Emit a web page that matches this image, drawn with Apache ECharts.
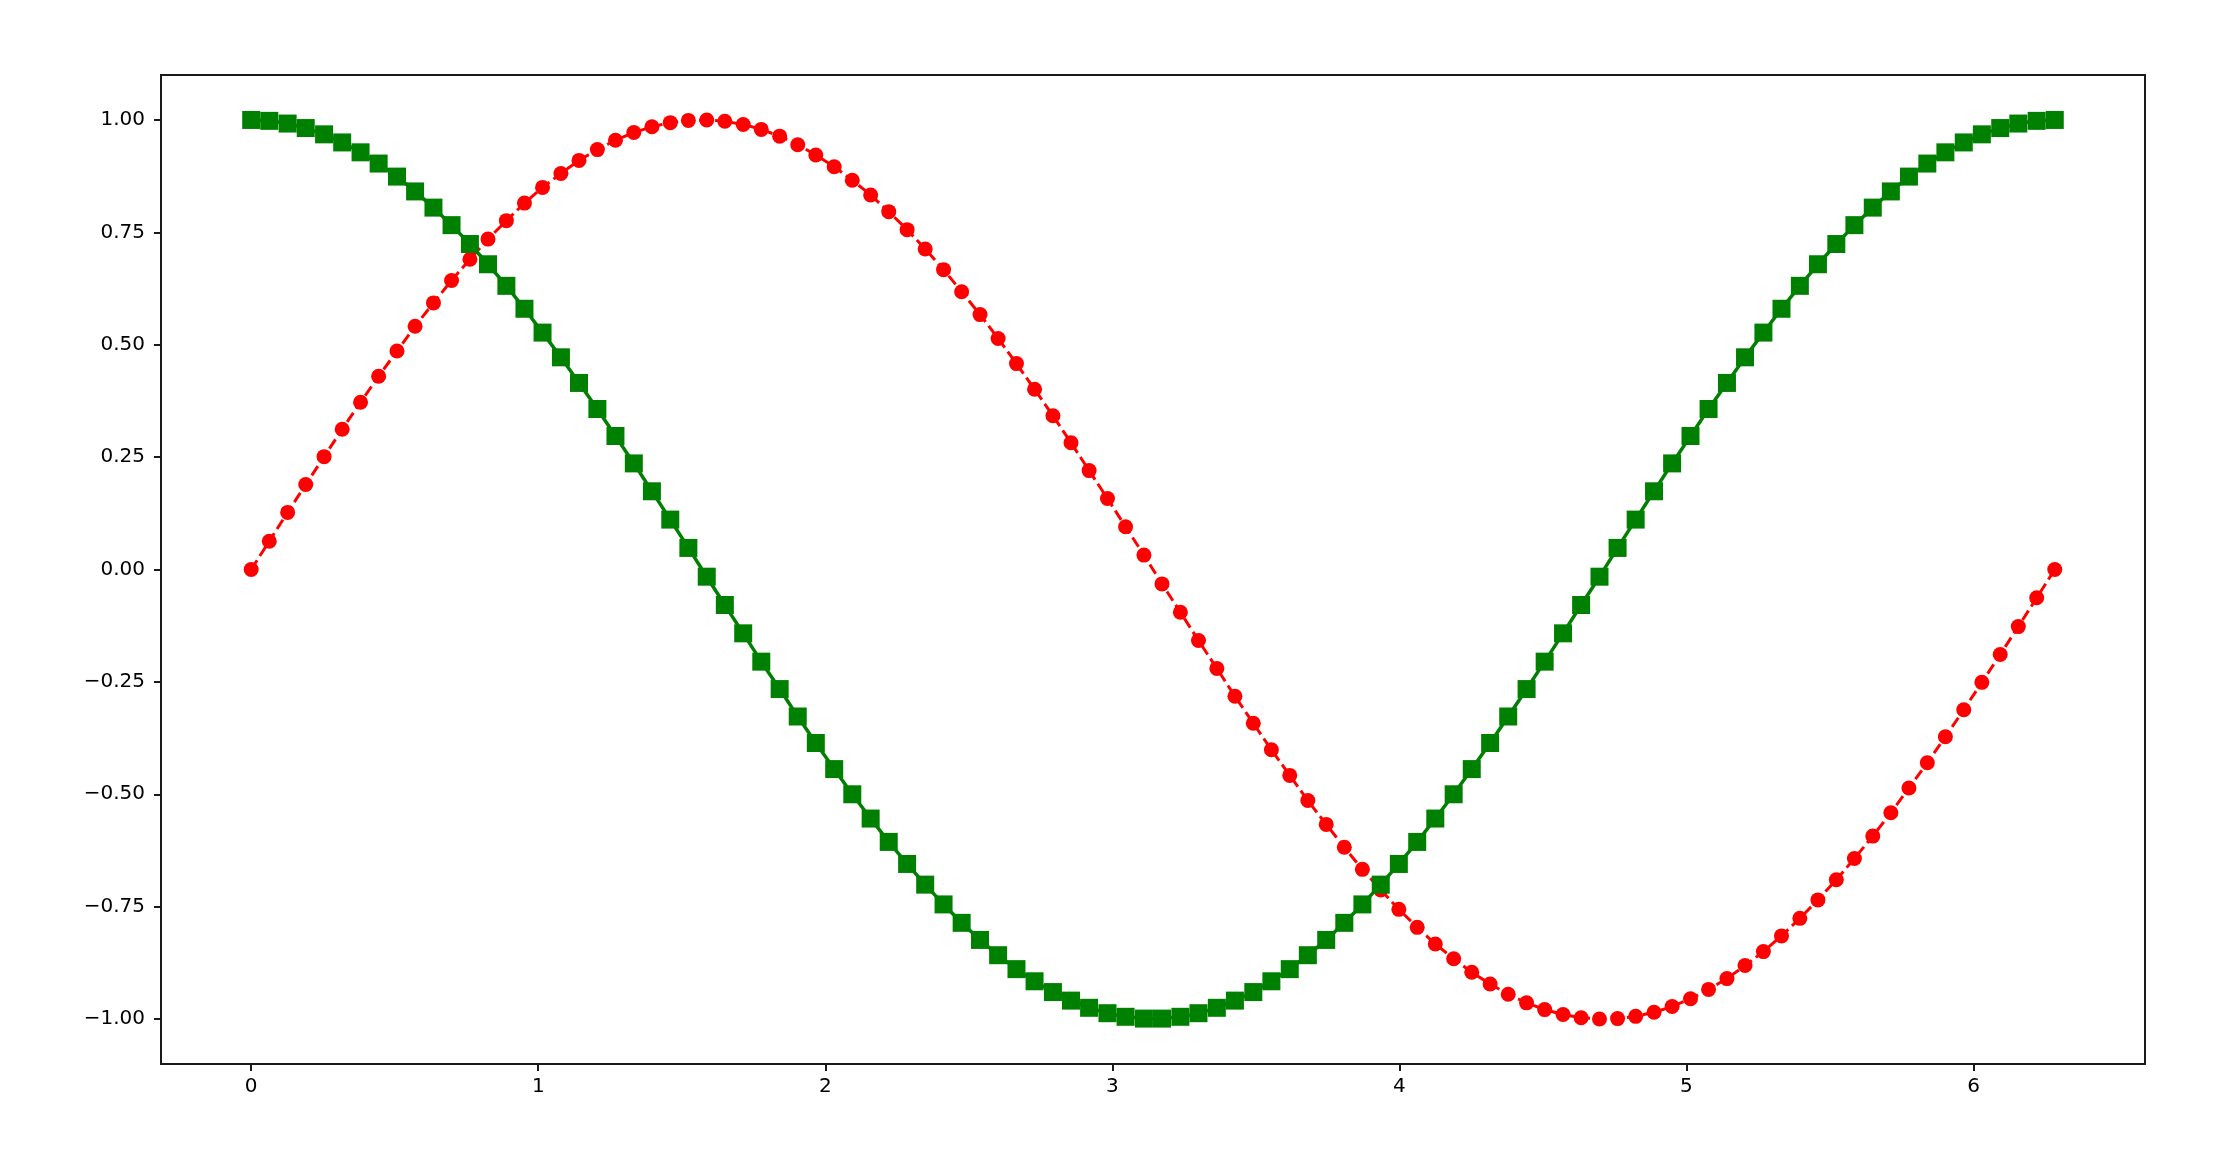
<!DOCTYPE html>
<html>
<head>
<meta charset="utf-8">
<script src="https://cdn.jsdelivr.net/npm/echarts@6/dist/echarts.min.js"></script>
<style>
html,body{margin:0;padding:0;background:#fff;}
#c{width:2233px;height:1162px;}
</style>
</head>
<body>
<div id="c"></div>
<script>
var xValues = [0.000,0.063,0.127,0.190,0.254,0.317,0.381,0.444,0.508,0.571,
0.635,0.698,0.762,0.825,0.889,0.952,1.015,1.079,1.142,1.206,
1.269,1.333,1.396,1.460,1.523,1.587,1.650,1.714,1.777,1.841,
1.904,1.967,2.031,2.094,2.158,2.221,2.285,2.348,2.412,2.475,
2.539,2.602,2.666,2.729,2.793,2.856,2.919,2.983,3.046,3.110,
3.173,3.237,3.300,3.364,3.427,3.491,3.554,3.618,3.681,3.745,
3.808,3.871,3.935,3.998,4.062,4.125,4.189,4.252,4.316,4.379,
4.443,4.506,4.570,4.633,4.697,4.760,4.823,4.887,4.950,5.014,
5.077,5.141,5.204,5.268,5.331,5.395,5.458,5.522,5.585,5.649,
5.712,5.775,5.839,5.902,5.966,6.029,6.093,6.156,6.220,6.283];

var sinValues = [0.000,0.063,0.127,0.189,0.251,0.312,0.372,0.430,0.486,0.541,
0.593,0.643,0.690,0.735,0.776,0.815,0.850,0.881,0.910,0.934,
0.955,0.972,0.985,0.994,0.999,1.000,0.997,0.990,0.979,0.964,
0.945,0.922,0.896,0.866,0.833,0.796,0.756,0.713,0.667,0.618,
0.567,0.514,0.458,0.401,0.342,0.282,0.220,0.158,0.095,0.032,
-0.032,-0.095,-0.158,-0.220,-0.282,-0.342,-0.401,-0.458,-0.514,-0.567,
-0.618,-0.667,-0.713,-0.756,-0.796,-0.833,-0.866,-0.896,-0.922,-0.945,
-0.964,-0.979,-0.990,-0.997,-1.000,-0.999,-0.994,-0.985,-0.972,-0.955,
-0.934,-0.910,-0.881,-0.850,-0.815,-0.776,-0.735,-0.690,-0.643,-0.593,
-0.541,-0.486,-0.430,-0.372,-0.312,-0.251,-0.189,-0.127,-0.063,0.000];

var cosValues = [1.000,0.998,0.992,0.982,0.968,0.950,0.928,0.903,0.874,0.841,
0.805,0.766,0.724,0.679,0.631,0.580,0.527,0.472,0.415,0.357,
0.297,0.236,0.174,0.111,0.048,-0.016,-0.079,-0.142,-0.205,-0.266,
-0.327,-0.386,-0.444,-0.500,-0.554,-0.606,-0.655,-0.701,-0.745,-0.786,
-0.824,-0.858,-0.889,-0.916,-0.940,-0.959,-0.975,-0.987,-0.995,-0.999,
-0.999,-0.995,-0.987,-0.975,-0.959,-0.940,-0.916,-0.889,-0.858,-0.824,
-0.786,-0.745,-0.701,-0.655,-0.606,-0.554,-0.500,-0.444,-0.386,-0.327,
-0.266,-0.205,-0.142,-0.079,-0.016,0.048,0.111,0.174,0.236,0.297,
0.357,0.415,0.472,0.527,0.580,0.631,0.679,0.724,0.766,0.805,
0.841,0.874,0.903,0.928,0.950,0.968,0.982,0.992,0.998,1.000];

var xTicks = [0, 1, 2, 3, 4, 5, 6];
var yTicks = [-1.00, -0.75, -0.50, -0.25, 0.00, 0.25, 0.50, 0.75, 1.00];

function pairs(xs, ys) {
  var out = [];
  for (var i = 0; i < xs.length; i++) out.push([xs[i], ys[i]]);
  return out;
}

var chart = echarts.init(document.getElementById('c'), null, {renderer: 'canvas'});
var labelStyle = {color: '#000', fontFamily: 'DejaVu Sans', fontSize: 20};
var frame = {color: '#1a1a1a', width: 2};
chart.setOption({
  animation: false,
  backgroundColor: '#fff',
  grid: {left: 161, right: 88, top: 75, bottom: 98, show: true, borderColor: '#1a1a1a', borderWidth: 2, backgroundColor: 'transparent'},
  xAxis: {
    type: 'value', min: -0.31416, max: 6.59734,
    splitLine: {show: false},
    axisLine: {show: true, onZero: false, lineStyle: frame},
    axisTick: {show: true, length: 7, lineStyle: frame, customValues: xTicks},
    axisLabel: Object.assign({margin: 13, customValues: xTicks, formatter: function(v){return String(v);}}, labelStyle)
  },
  yAxis: {
    type: 'value', min: -1.1, max: 1.1,
    splitLine: {show: false},
    axisLine: {show: true, onZero: false, lineStyle: frame},
    axisTick: {show: true, length: 7, lineStyle: frame, customValues: yTicks},
    axisLabel: Object.assign({margin: 16, customValues: yTicks, formatter: function(v){
      var s = Math.abs(v).toFixed(2);
      return (v < -1e-9 ? '\u2212' : '') + s;
    }}, labelStyle)
  },
  series: [
    {
      name: 'sin', type: 'line', data: pairs(xValues, sinValues),
      symbol: 'circle', symbolSize: 15, showAllSymbol: true,
      itemStyle: {color: '#ff0000'},
      lineStyle: {color: '#ff0000', width: 3, type: [11, 5]},
      z: 2
    },
    {
      name: 'cos', type: 'line', data: pairs(xValues, cosValues),
      symbol: 'rect', symbolSize: 18, showAllSymbol: true,
      itemStyle: {color: '#008000'},
      lineStyle: {color: '#008000', width: 3.5, type: 'solid'},
      z: 3
    }
  ]
});
</script>
</body>
</html>
